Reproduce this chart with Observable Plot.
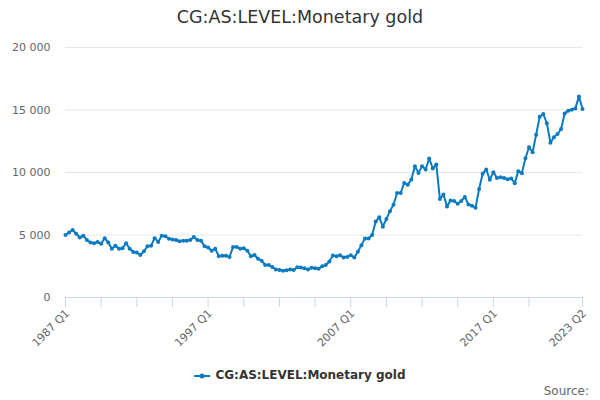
<!DOCTYPE html>
<html><head><meta charset="utf-8">
<script src="https://cdn.jsdelivr.net/npm/d3@7"></script>
<script src="https://cdn.jsdelivr.net/npm/@observablehq/plot@0.6"></script>
<style>
body{margin:0;background:#fff;font-family:"DejaVu Sans",sans-serif;}
#wrap{position:relative;width:600px;height:400px;overflow:hidden;}
#title{position:absolute;top:7px;left:0;width:600px;text-align:center;font-size:17.5px;color:#333;}
#legend{position:absolute;top:368px;left:0;width:600px;text-align:center;font-size:12px;font-weight:bold;color:#333;}
#legend svg{vertical-align:middle;margin-right:5px;}
#source{position:absolute;top:384px;right:11px;font-size:12px;color:#666;}
#chart{position:absolute;top:0;left:0;}
</style></head>
<body>
<div id="wrap">
<div id="chart"></div>
<div id="title">CG:AS:LEVEL:Monetary gold</div>
<div id="legend"><svg width="16" height="10"><line x1="0" y1="5" x2="16" y2="5" stroke="#0b7bc1" stroke-width="2"/><circle cx="8" cy="5" r="2.5" fill="#0b7bc1"/></svg>CG:AS:LEVEL:Monetary gold</div>
<div id="source">Source:</div>
</div>
<script>
const startYear = 1987;
const values = [
5000,5200,5400,5100,
4800,4950,4600,4400,
4350,4450,4300,4750,
4400,3900,4150,3900,
3950,4350,3900,3650,
3600,3400,3700,4100,
4150,4750,4450,4950,
4900,4700,4650,4600,
4500,4550,4550,4600,
4850,4600,4550,4100,
4000,3750,3900,3300,
3350,3350,3250,4050,
4050,3900,3950,3750,
3300,3400,3100,2950,
2600,2600,2450,2250,
2200,2150,2180,2250,
2200,2420,2400,2350,
2250,2380,2350,2300,
2500,2600,2880,3360,
3300,3390,3200,3250,
3390,3200,3660,4190,
4730,4730,5000,6080,
6420,5670,6290,6910,
7420,8360,8360,9170,
9030,9440,10510,9970,
10510,10240,11130,10320,
10650,7880,8250,7280,
7770,7720,7500,7720,
8040,7450,7340,7180,
8680,9900,10250,9420,
10030,9570,9630,9570,
9470,9520,9150,10110,
9950,11140,12020,11620,
13030,14470,14680,13940,
12390,12820,13090,13480,
14730,14950,15030,15130,
16090,15080
];
const periods = values.map((_, i) => `${startYear + Math.floor(i / 4)} Q${(i % 4) + 1}`);
const yTicks = [0, 5000, 10000, 15000, 20000];
const xTickIdx = [0,10,20,30,40,50,60,70,80,90,100,110,120,130,145];
const xLabelIdx = [0, 40, 80, 120, 145];
const xLabels = ["1987 Q1", "1997 Q1", "2007 Q1", "2017 Q1", "2023 Q2"];

const data = values.map((v, i) => ({i, v, period: periods[i]}));
const color = "#0b7bc1";
const fmt = d => d3.format(",")(d).replace(/,/g, " ");

const chart = Plot.plot({
  width: 600, height: 400,
  marginLeft: 65, marginRight: 18, marginTop: 47, marginBottom: 103,
  style: {fontFamily: "DejaVu Sans, sans-serif", background: "transparent"},
  x: {domain: [0, values.length - 1], axis: null},
  y: {domain: [0, 20000], axis: null},
  marks: [
    Plot.gridY(yTicks.slice(1), {stroke: "#e6e6e6", strokeOpacity: 1}),
    Plot.axisY(yTicks, {label: null, tickSize: 0, tickPadding: 15, tickFormat: fmt, fill: "#666", fontSize: 11}),
    Plot.ruleY([0], {stroke: "#ccd6eb"}),
    Plot.axisX(xTickIdx, {label: null, tickSize: 10, tickFormat: () => "", stroke: "#ccd6eb", strokeOpacity: 1}),
    Plot.axisX(xLabelIdx, {label: null, tickSize: 0, tickPadding: 14, tickRotate: -45, tickFormat: d => xLabels[xLabelIdx.indexOf(d)], fill: "#666", fontSize: 11, dx: 2}),
    Plot.line(data, {x: "i", y: "v", stroke: color, strokeWidth: 2}),
    Plot.dot(data, {x: "i", y: "v", r: 2, fill: color})
  ]
});
document.getElementById("chart").appendChild(chart);
</script>
</body></html>
